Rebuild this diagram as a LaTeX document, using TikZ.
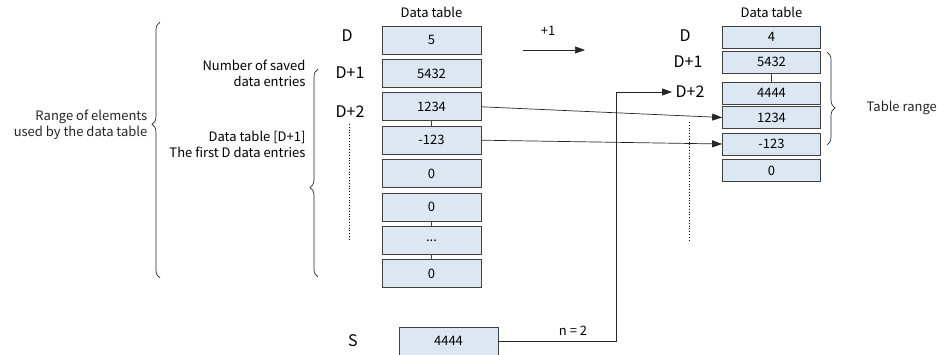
\documentclass[tikz,border=0pt]{standalone}
\usepackage{fontspec}
\setmainfont{Noto Sans CJK SC}
\usetikzlibrary{decorations.pathreplacing, arrows.meta}

\definecolor{cellfill}{RGB}{221,231,241}
\newcommand{\gapdots}{...}

\begin{document}
\begin{tikzpicture}[x=1pt, y=-1pt,
		cell/.style={draw=black!75, line width=0.7pt, fill=cellfill, inner sep=0pt, minimum width=99pt, minimum height=28pt, font=\fontsize{13}{13}\selectfont},
		smallcell/.style={cell, minimum width=98pt, minimum height=22pt},
		reg/.style={font=\fontsize{16}{16}\selectfont},
		caption/.style={font=\fontsize{13}{13}\selectfont},
		note/.style={align=right, font=\fontsize{13}{16}\selectfont},
		tip/.style={-{Triangle[length=10pt, width=7pt]}, line width=0.7pt, black!85},
		bracket/.style={decorate, decoration={brace, amplitude=8pt, aspect=#1}, black!85, line width=0.7pt}]
		\useasboundingbox (0, 0) rectangle (944, 355);
		
		% left data table
		\node[caption] (titleL) at (431.5, 12) {Data table};
		\foreach \val [count=\i from 0] in {5, 5432, 1234, -123, 0, 0, \gapdots, 0}
		\node[cell] (L\i) at (431.5, 40 + 33.4*\i) {\val};
		\foreach \a/\b in {2/3, 5/6, 6/7}
		\draw[black!75, line width=0.7pt] (L\a) -- (L\b);
		
		\node[reg] (dL) at (347, 36) {D};
		\node[reg] (d1L) at (350, 73) {D+1};
		\node[reg] (d2L) at (350, 112) {D+2};
		\draw[dotted, thick] (349, 124) -- (349, 240);
		
		% right data table
		\node[caption] (titleR) at (771.5, 12) {Data table};
		\foreach \val/\y [count=\i from 0] in {4/37, 5432/62, 4444/93, 1234/117.5, -123/144, 0/170.5}
		\node[smallcell] (R\i) at (771.5, \y) {\val};
		\draw[black!75, line width=0.7pt] (R1) -- (R2);
		
		\node[reg] (dR) at (685, 36) {D};
		\node[reg] (d1R) at (688, 62) {D+1};
		\node[reg] (d2R) at (690, 92) {D+2};
		\draw[dotted, thick] (689, 122) -- (689, 240);
		
		% shift by one
		\coordinate (shiftA) at (523, 50);
		\coordinate (shiftB) at (585, 50);
		\draw[tip] (shiftA) -- (shiftB);
		\node[caption] (plusone) at (548, 31) {+1};
		
		\draw[tip] (L2.east) -- (R3.west);
		\draw[tip] (L3.east) -- (R4.west);
		
		% source
		\node[reg] (sLabel) at (353, 341) {S};
		\node[cell] (S) at (448.5, 341) {4444};
		\coordinate (bend) at (616, 341);
		\draw[tip] (S.east) -- (bend) |- (d2R.west);
		\node[caption] (nval) at (573, 331) {n = 2};
		
		% braces
		\draw[bracket=0.6] (160, 278) -- (160, 22) node[pos=0.6, left=9pt, note] (range) {Range of elements\\used by the data table};
		\draw[bracket=0.43] (318, 277) -- (318, 69);
		\node[note, anchor=east] (saved) at (309, 73) {Number of saved\\data entries};
		\node[note, anchor=east] (first) at (309, 144) {Data table [D+1]\\The first D data entries};
		\draw[bracket=0.6] (827, 52) -- (827, 145) node[pos=0.6, right=36pt, note] (trange) {Table range};
		
	\end{tikzpicture}
\end{document}
